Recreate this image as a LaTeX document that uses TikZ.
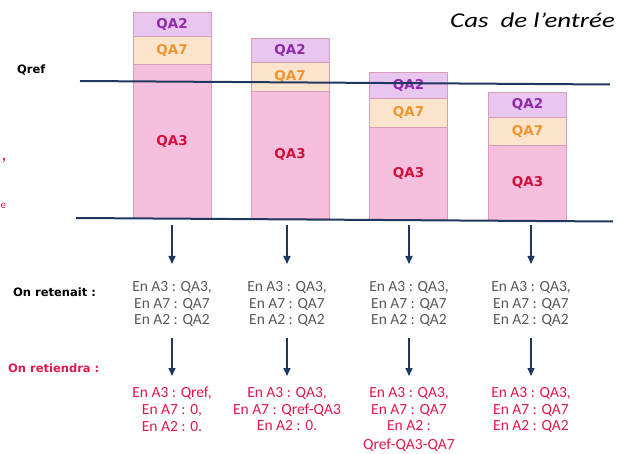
\documentclass[tikz,border=0pt]{standalone}
\usepackage{fontspec}
\setmainfont{Carlito}
\newfontfamily\boldsans{DejaVu Sans}
\usetikzlibrary{arrows.meta}
\definecolor{lavfill}{HTML}{E8C6EF}
\definecolor{lavtext}{HTML}{8E2AA6}
\definecolor{peachfill}{HTML}{FCE4CC}
\definecolor{peachtext}{HTML}{EE9530}
\definecolor{pinkfill}{HTML}{F6BFDE}
\definecolor{pinktext}{HTML}{D0103A}
\definecolor{barline}{HTML}{D69CB8}
\definecolor{navy}{HTML}{1F3860}
\definecolor{graytext}{HTML}{585858}
\definecolor{redtext}{HTML}{E0184C}
\tikzset{
  seg/.style={draw=barline, line width=0.8pt, minimum width=78pt, inner sep=0pt,
    font=\boldsans\bfseries\fontsize{13.5}{14}\selectfont},
  sA/.style={seg, fill=lavfill, text=lavtext},
  sB/.style={seg, fill=peachfill, text=peachtext},
  sC/.style={seg, fill=pinkfill, text=pinktext},
  refline/.style={draw=navy, line width=2pt},
  arr/.style={draw=navy, line width=1.5pt, -{Triangle[length=8pt,width=7pt]}},
  sidelabel/.style={anchor=west, inner sep=0pt, font=\boldsans\bfseries\fontsize{11.5}{12}\selectfont},
  blk/.style={anchor=north, inner sep=0pt, align=center, font=\fontsize{15.5}{16.8}\selectfont},
  frag/.style={anchor=west, inner sep=0pt, text=redtext, font=\bfseries\fontsize{16}{18}\selectfont},
}
\newcommand{\mkseg}[6]{\node[#5, minimum height={(#4)-(#3)}] (#1) at (#2,{((#3)+(#4))/2}) {#6};}
\begin{document}
\begin{tikzpicture}[x=1pt,y=-1pt]
\useasboundingbox (0,0) rectangle (618,454);
% bars
\mkseg{b1c}{172}{64}{218}{sC}{QA3}
\mkseg{b1b}{172}{36}{64}{sB}{QA7}
\mkseg{b1a}{172}{12}{36}{sA}{QA2}
\mkseg{b2c}{290}{91}{218}{sC}{QA3}
\mkseg{b2b}{290}{62}{91}{sB}{QA7}
\mkseg{b2a}{290}{38}{62}{sA}{QA2}
\mkseg{b3c}{408.5}{127}{219}{sC}{QA3}
\mkseg{b3b}{408.5}{98}{127}{sB}{QA7}
\mkseg{b3a}{408.5}{72}{98}{sA}{QA2}
\mkseg{b4c}{527.5}{145}{220}{sC}{QA3}
\mkseg{b4b}{527.5}{117}{145}{sB}{QA7}
\mkseg{b4a}{527.5}{92}{117}{sA}{QA2}
% reference lines
\coordinate (qL) at (80,81);
\coordinate (qR) at (610,84.5);
\coordinate (bL) at (76,218);
\coordinate (bR) at (613,221.5);
\draw[refline] (qL) -- (qR);
\draw[refline] (bL) -- (bR);
% labels
\node[sidelabel] (qref) at (17,70) {Qref};
\node[anchor=base east, inner sep=0pt] (title) at (615,28)
  {\scalebox{1.28}[1]{\fontsize{21}{24}\selectfont\itshape Cas\ \ de l’entrée}};
\node[sidelabel] (retenait) at (13,292) {On retenait :};
\node[sidelabel, text=redtext] (retiendra) at (8,368) {On retiendra :};
% side fragments
\node[frag] (frag1) at (2,160) {,};
\node[frag, font=\fontsize{11}{12}\selectfont] (frag2) at (0.5,206) {e};
% old values
\node[blk, text=graytext] (o1) at (172,281) {En A3 : QA3,\\En A7 : QA7\\En A2 : QA2};
\node[blk, text=graytext] (o2) at (287,281) {En A3 : QA3,\\En A7 : QA7\\En A2 : QA2};
\node[blk, text=graytext] (o3) at (409,281) {En A3 : QA3,\\En A7 : QA7\\En A2 : QA2};
\node[blk, text=graytext] (o4) at (531,281) {En A3 : QA3,\\En A7 : QA7\\En A2 : QA2};
% new values
\node[blk, text=redtext] (n1) at (172,387) {En A3 : Qref,\\En A7 : 0,\\En A2 : 0.};
\node[blk, text=redtext] (n2) at (287,387) {En A3 : QA3,\\En A7 : Qref-QA3\\En A2 : 0.};
\node[blk, text=redtext] (n3) at (409,387) {En A3 : QA3,\\En A7 : QA7\\En A2 :\\[2pt]Qref-QA3-QA7};
\node[blk, text=redtext] (n4) at (531,387) {En A3 : QA3,\\En A7 : QA7\\En A2 : QA2};
% arrows
\foreach \i/\x in {1/172,2/287,3/409,4/531}{
  \coordinate (t\i) at (\x,225);
  \coordinate (u\i) at (\x,338);
  \draw[arr] (t\i) -- (\x,264);
  \draw[arr] (u\i) -- (\x,376);
}
\end{tikzpicture}
\end{document}
